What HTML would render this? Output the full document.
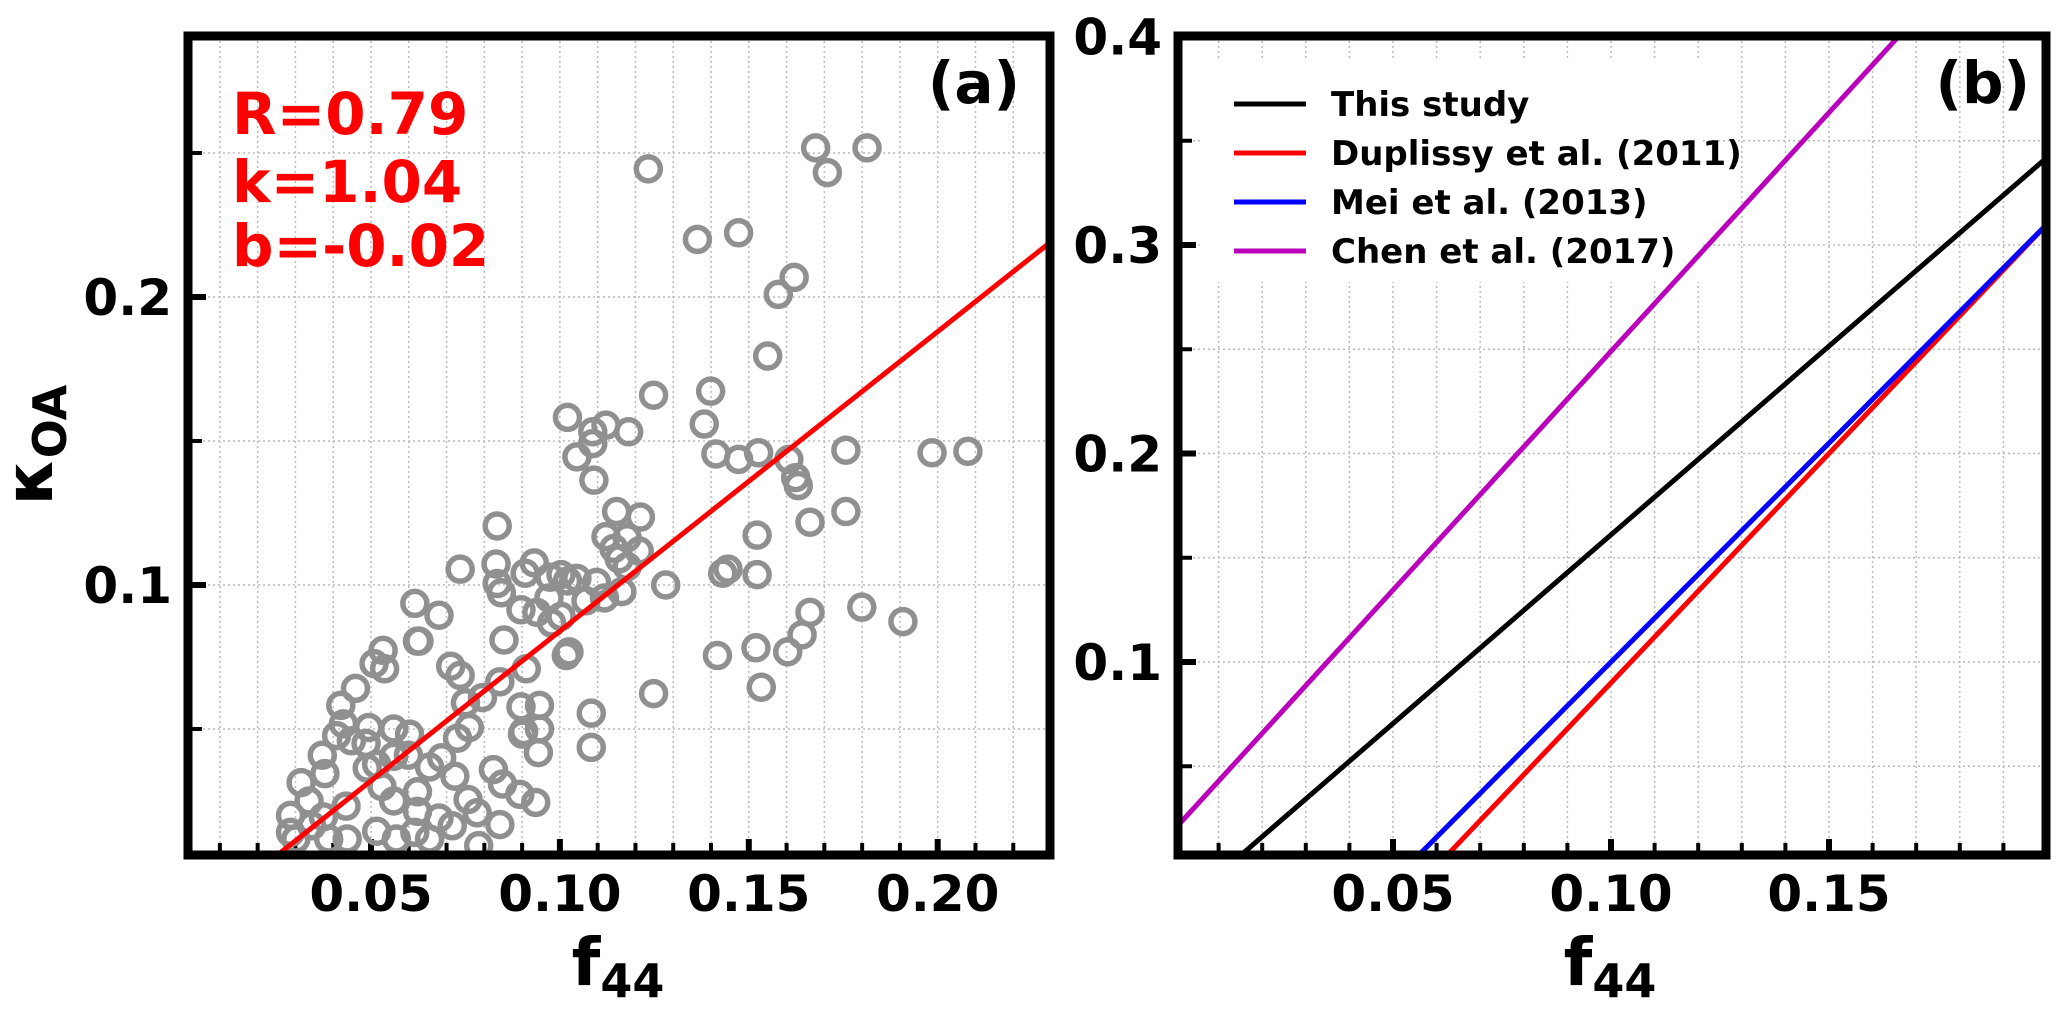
<!DOCTYPE html>
<html><head><meta charset="utf-8">
<style>
html,body{margin:0;padding:0;background:#fff;overflow:hidden;}
svg{display:block;font-family:"DejaVu Sans","Liberation Sans",sans-serif;font-weight:bold;}
</style></head>
<body>
<svg id="chart" width="2067" height="1015" viewBox="0 0 2067 1015" xmlns="http://www.w3.org/2000/svg">
<g id="pa"></g>
<g id="pb"></g>
</svg>
<script>
// Panel (a) scatter data: f44 and kappa_OA
const scatterF44 = [0.1677,0.1813,0.1708,0.1234,0.1364,0.1473,0.162,0.1578,0.155,0.1248,0.1399,0.1382,0.102,0.1122,0.1087,0.1182,0.1087,0.1045,0.1526,0.1413,0.1473,0.1606,0.1757,0.1985,0.208,0.1624,0.1631,0.1757,0.1662,0.1522,0.109,0.115,0.1178,0.1213,0.121,0.1122,0.1143,0.1157,0.128,0.1445,0.1431,0.1522,0.0834,0.0736,0.0831,0.0834,0.0932,0.0908,0.0974,0.1003,0.1045,0.102,0.0971,0.1003,0.0939,0.0978,0.1024,0.1017,0.0897,0.0852,0.0845,0.0911,0.0616,0.068,0.0627,0.0736,0.0711,0.075,0.0795,0.0841,0.0897,0.0946,0.0946,0.0901,0.0943,0.0936,0.1083,0.1083,0.1519,0.1533,0.1417,0.1603,0.1641,0.1662,0.1799,0.1908,0.1178,0.1097,0.1118,0.1069,0.1164,0.1248,0.0532,0.0536,0.0508,0.0623,0.042,0.0427,0.0459,0.0448,0.0409,0.0371,0.0315,0.0287,0.0336,0.0378,0.0487,0.049,0.0529,0.056,0.056,0.0623,0.0623,0.0655,0.0687,0.056,0.0434,0.0374,0.0388,0.0515,0.0616,0.068,0.0715,0.0757,0.0781,0.0841,0.0785,0.0722,0.0729,0.076,0.0824,0.0848,0.0894,0.0904,0.0515,0.0602,0.0599,0.0494,0.0567,0.0655,0.0301,0.0437,0.0287,0.0343];
const scatterKappa = [0.2518,0.2518,0.2432,0.2445,0.22,0.2223,0.2068,0.2009,0.1795,0.1659,0.1673,0.1559,0.1582,0.1555,0.1532,0.1532,0.1491,0.1445,0.1459,0.1455,0.1436,0.1436,0.1468,0.1459,0.1464,0.1373,0.1345,0.1255,0.1218,0.1173,0.1364,0.1255,0.1164,0.1236,0.1118,0.1168,0.1127,0.1091,0.1,0.1055,0.1041,0.1036,0.1205,0.1055,0.1073,0.1005,0.1077,0.1041,0.1027,0.1036,0.1023,0.1014,0.0955,0.0891,0.0905,0.0868,0.0768,0.0755,0.0914,0.0809,0.0973,0.0709,0.0936,0.0895,0.0805,0.0686,0.0718,0.0591,0.0609,0.0664,0.0577,0.0582,0.05,0.0482,0.0418,0.0245,0.0436,0.0555,0.0782,0.0645,0.0755,0.0768,0.0827,0.0905,0.0923,0.0873,0.1064,0.1009,0.0955,0.0945,0.0977,0.0623,0.0773,0.0709,0.0727,0.0805,0.0582,0.0518,0.0641,0.0459,0.0477,0.0409,0.0314,0.02,0.025,0.0345,0.045,0.0364,0.03,0.0405,0.025,0.0282,0.0214,0.0368,0.04,0.05,0.0232,0.0195,0.0118,0.0145,0.0141,0.0191,0.0164,0.0255,0.0209,0.0168,0.0095,0.0336,0.0468,0.0505,0.0359,0.0309,0.0273,0.0491,0.0377,0.0482,0.0409,0.0505,0.0118,0.0118,0.0118,0.0118,0.0141,0.0164];
const fitSlope = 1.04;
const fitIntercept = -0.02;
const aXTicks = [0.05,0.10,0.15,0.20];
const aXTickLabels = ["0.05","0.10","0.15","0.20"];
const aYTicks = [0.1,0.2];
const aYTickLabels = ["0.1","0.2"];
// Panel (b) parameterisations kappa = slope*f44 + intercept
const modelNames = ["This study","Duplissy et al. (2011)","Mei et al. (2013)","Chen et al. (2017)"];
const modelSlopes = [1.81,2.2,2.1,2.29];
const modelIntercepts = [-0.02,-0.13,-0.11,0.02];
const modelColors = ["#000000","#ff0000","#0000ff","#bb00bb"];
const bXTicks = [0.05,0.10,0.15];
const bXTickLabels = ["0.05","0.10","0.15"];
const bYTicks = [0.1,0.2,0.3,0.4];
const bYTickLabels = ["0.1","0.2","0.3","0.4"];

const NS="http://www.w3.org/2000/svg";
function mk(tag, parent, attrs){const e=document.createElementNS(NS,tag);for(const k in attrs)e.setAttribute(k,attrs[k]);parent.appendChild(e);return e;}

const A={L:188,R:1050,T:36,B:855,x0:0.05,px0:371,sx:3778,y0:0.1,py0:585,sy:2880,xmin:0.0016,xmax:0.2297,ymin:0.006,ymax:0.29};
const Bx={L:1178,R:2046,T:36,B:855,x0:0.05,px0:1393,sx:4360,y0:0.1,py0:662,sy:2085,xmin:0.0007,xmax:0.1998,ymin:0.006,ymax:0.4};
function X(ax,v){return ax.px0+(v-ax.x0)*ax.sx;}
function Y(ax,v){return ax.py0-(v-ax.y0)*ax.sy;}

function drawFrame(g, ax, xt, xtl, yt, ytl, xMinorStep, yMinorStep){
  const grid=mk('g',g,{});
  
  
  for(let v=Math.ceil(ax.xmin/xMinorStep)*xMinorStep; v<ax.xmax; v+=xMinorStep){
    const x=X(ax,v); if(x<=ax.L+5||x>=ax.R-5) continue;
    mk('line',grid,{x1:x,x2:x,y1:ax.T,y2:ax.B,stroke:'#bbbbbb','stroke-width':1.5,'stroke-dasharray':'2 3'});
    const major = xt.some(t=>Math.abs(t-v)<1e-6);
    mk('line',grid,{x1:x,x2:x,y1:ax.B,y2:ax.B-(major?16:12),stroke:'#000','stroke-width':major?6:4});
  }
  for(let v=Math.ceil(ax.ymin/yMinorStep)*yMinorStep; v<=ax.ymax+1e-9; v+=yMinorStep){
    const y=Y(ax,v); if(y<=ax.T+5||y>=ax.B-5) continue;
    mk('line',grid,{x1:ax.L,x2:ax.R,y1:y,y2:y,stroke:'#bbbbbb','stroke-width':1.5,'stroke-dasharray':'2 3'});
    const major = yt.some(t=>Math.abs(t-v)<1e-6);
    mk('line',grid,{x1:ax.L,x2:ax.L+(major?18:14),y1:y,y2:y,stroke:'#000','stroke-width':major?6:4});
  }
  xt.forEach((v,i)=>{
    const t=mk('text',g,{x:X(ax,v),y:ax.B+56,'text-anchor':'middle','font-size':50});
    t.textContent=xtl[i];
    
    
  });
  yt.forEach((v,i)=>{
    const t=mk('text',g,{x:ax.L-16,y:Y(ax,v)+18,'text-anchor':'end','font-size':50});
    t.textContent=ytl[i];
    
    
  });
}
function drawSpines(g,ax){
  const r=mk('rect',g,{x:ax.L,y:ax.T,width:ax.R-ax.L,height:ax.B-ax.T,fill:'none',stroke:'#000','stroke-width':9});
  
  
}
function clipFor(id,ax){
  let defs=document.getElementById('defs')||mk('defs',document.getElementById('chart'),{id:'defs'});
  const c=mk('clipPath',defs,{id:id});
  mk('rect',c,{x:ax.L,y:ax.T,width:ax.R-ax.L,height:ax.B-ax.T});
}

const pa=document.getElementById('pa');
clipFor('ca',A);
drawFrame(pa,A,aXTicks,aXTickLabels,aYTicks,aYTickLabels,0.01,0.05);
const pts=mk('g',pa,{'clip-path':'url(#ca)'});


scatterF44.forEach((f,i)=>{
  const c=mk('circle',pts,{cx:X(A,f),cy:Y(A,scatterKappa[i]),r:12,fill:'none',stroke:'#909090','stroke-width':5.5});
  
  
});
const fx1=(A.ymin-fitIntercept)/fitSlope, fx2=A.xmax;
const fit=mk('line',pa,{x1:X(A,fx1),y1:Y(A,fitSlope*fx1+fitIntercept),x2:X(A,fx2),y2:Y(A,fitSlope*fx2+fitIntercept),stroke:'#ff0000','stroke-width':5,'clip-path':'url(#ca)'});


drawSpines(pa,A);
</script>
<script>
(function(){
const pa=document.getElementById('pa');
const ann=[["R=0.79",134],["k=1.04",202],["b=-0.02",266]];
ann.forEach(a=>{
  const t=mk('text',pa,{x:232,y:a[1],'font-size':58,fill:'#ff0000'});
  t.textContent=a[0];
  
  
});
const la=mk('text',pa,{x:1020,y:103,'text-anchor':'end','font-size':58});
la.textContent='(a)';


const xl=mk('text',pa,{x:618,y:985,'text-anchor':'middle','font-size':66});
xl.innerHTML='f<tspan font-size="46" dy="12">44</tspan>';


const yl=mk('text',pa,{x:0,y:0,'text-anchor':'middle','font-size':66,transform:'translate(52,445) rotate(-90)'});
yl.innerHTML='κ<tspan font-size="46" dy="14">OA</tspan>';



const pb=document.getElementById('pb');
clipFor('cb',Bx);
drawFrame(pb,Bx,bXTicks,bXTickLabels,bYTicks,bYTickLabels,0.01,0.05);
const lg=mk('g',pb,{});


mk('rect',lg,{x:1200,y:60,width:500,height:222,fill:'#fff'});
const lines=mk('g',pb,{'clip-path':'url(#cb)'});


modelNames.forEach((n,i)=>{
  const x1=0, x2=0.2;
  const l=mk('line',lines,{x1:X(Bx,x1),y1:Y(Bx,modelSlopes[i]*x1+modelIntercepts[i]),x2:X(Bx,x2),y2:Y(Bx,modelSlopes[i]*x2+modelIntercepts[i]),stroke:modelColors[i],'stroke-width':5});
  
  
});
modelNames.forEach((n,i)=>{
  const y=104+i*49;
  const s=mk('line',lg,{x1:1234,x2:1306,y1:y,y2:y,stroke:modelColors[i],'stroke-width':5});
  
  
  const t=mk('text',lg,{x:1331,y:y+12,'font-size':34});
  t.textContent=n;
  
  
});
drawSpines(pb,Bx);
const lb=mk('text',pb,{x:2030,y:103,'text-anchor':'end','font-size':58});
lb.textContent='(b)';


const xb=mk('text',pb,{x:1610,y:985,'text-anchor':'middle','font-size':66});
xb.innerHTML='f<tspan font-size="46" dy="12">44</tspan>';


})();
</script>
</body></html>
